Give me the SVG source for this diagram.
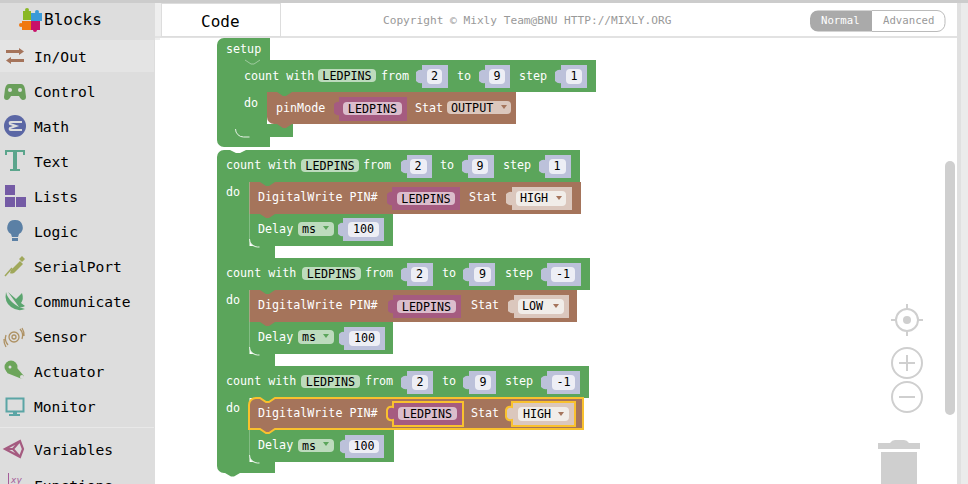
<svg xmlns="http://www.w3.org/2000/svg" xmlns:xlink="http://www.w3.org/1999/xlink" width="968" height="484" viewBox="0 0 968 484">
<style>
text{font-family:"DejaVu Sans Mono","Liberation Mono",monospace}
.m{font-size:14.6px;fill:#000}
.l{font-size:11.7px;fill:#fff}
.f{font-size:11.7px;fill:#000;text-anchor:middle}
.fs{font-size:11.7px;fill:#000}
.g{fill:#5ba55b}.b{fill:#a5745b}.p{fill:#a55b80}.v{fill:#bcc1da}.w{fill:#edeef5}
.gp{fill:#bddbbd}.bp{fill:#dbc7bd}.bw{fill:#f1ede9}.pp{fill:#dbbdcc}
.hl{fill:none;stroke:#e6f2e6;stroke-width:1}
.hs{fill:none;stroke:#9fcb9f;stroke-width:1}
.sel{stroke:#f9c12e;stroke-width:2}
.ui{fill:#cfcfcf}
.uis{fill:none;stroke:#cfcfcf;stroke-width:2}
</style>
<defs>
<path id="bg" class="g" d="M0,0l6,4h3l6,-4z"/>
<path id="bb" class="b" d="M0,0l6,4h3l6,-4z"/>
<path id="dn" d="M0,0h6l-3,4z"/>
</defs>
<rect width="968" height="484" fill="#fff"/>

<g id="workspace-blocks">
<g id="block-setup">
<path class="g" d="M217,45a7,7 0 0 1 7,-7h46v22h-35v77h35v10h-46a7,7 0 0 1 -7,-7z"/>
<text class="l" x="226" y="53">setup</text>
</g>
<g id="block-count-1">
<path class="g" d="M235,60h361v32H267v32h26v13H235z"/>
<path class="hs" d="M245,60l6,4h3l6,-4"/>
<path class="hl" d="M235.500,129a8,8 0 0 0 8,8h6"/>
<text class="l" x="244" y="80">count with</text>
<rect class="gp" x="318" y="69" width="58" height="13" rx="4"/><text class="f" x="347" y="80">LEDPINS</text>
<text class="l" x="381" y="80">from</text>
<rect class="v" x="422" y="65" width="26" height="23"/><path class="v" d="M416,72q3,-3 6,-2v13q-3,1 -6,-2z"/><rect class="w" x="427" y="69" width="15" height="15" rx="4"/><text class="f" x="434.500" y="80">2</text>
<text class="l" x="457" y="80">to</text>
<rect class="v" x="485" y="65" width="25" height="23"/><path class="v" d="M479,72q3,-3 6,-2v13q-3,1 -6,-2z"/><rect class="w" x="489" y="69" width="16" height="15" rx="4"/><text class="f" x="497" y="80">9</text>
<text class="l" x="519" y="80">step</text>
<rect class="v" x="561" y="65" width="26" height="23"/><path class="v" d="M555,72q3,-3 6,-2v13q-3,1 -6,-2z"/><rect class="w" x="566" y="69" width="16" height="15" rx="4"/><text class="f" x="574" y="80">1</text>
<text class="l" x="244" y="107">do</text>
</g>
<g id="block-pinmode">
<path class="b" d="M267,92h249v32H274a7,7 0 0 1 -7,-7z"/>
<use xlink:href="#bb" href="#bb" x="277" y="124"/>
<use xlink:href="#bg" href="#bg" x="277" y="92"/>
<text class="l" x="276" y="112">pinMode</text>
<rect class="p" x="339" y="97" width="68" height="24"/><path class="p" d="M334,104q3,-3 5,-2v13q-2,1 -5,-2z"/><rect class="pp" x="343" y="102" width="59" height="13" rx="4"/><text class="f" x="372.500" y="113">LEDPINS</text>
<text class="l" x="415" y="112">Stat</text>
<rect class="bp" x="447" y="101" width="64" height="13" rx="4"/><text class="fs" x="451" y="112">OUTPUT</text><use xlink:href="#dn" href="#dn" x="501" y="105" fill="#a5745b"/>
</g>

<g id="block-count-2">
<path class="g" d="M217,157a7,7 0 0 1 7,-7h6l6,3h4l6,-3H580v32H249.500v64H275v12H217z"/>
<text class="l" x="226" y="169">count with</text>
<rect class="gp" x="301" y="159" width="58" height="13" rx="4"/><text class="f" x="330" y="170">LEDPINS</text>
<text class="l" x="363" y="169">from</text>
<rect class="v" x="407" y="155" width="25" height="23"/><path class="v" d="M401,162q3,-3 6,-2v13q-3,1 -6,-2z"/><rect class="w" x="410" y="159" width="17" height="15" rx="4"/><text class="f" x="418" y="170">2</text>
<text class="l" x="440" y="169">to</text>
<rect class="v" x="468" y="155" width="26" height="23"/><path class="v" d="M462,162q3,-3 6,-2v13q-3,1 -6,-2z"/><rect class="w" x="472" y="159" width="16" height="15" rx="4"/><text class="f" x="480" y="170">9</text>
<text class="l" x="503" y="169">step</text>
<rect class="v" x="545" y="155" width="26" height="23"/><path class="v" d="M539,162q3,-3 6,-2v13q-3,1 -6,-2z"/><rect class="w" x="549" y="159" width="17" height="15" rx="4"/><text class="f" x="557" y="170">1</text>
<text class="l" x="226" y="196">do</text>
</g>
<g id="block-write-2">
<path class="b" d="M249.500,182H581v32H249.500z"/>
<use xlink:href="#bg" href="#bg" x="260" y="182"/>
<text class="l" x="258" y="201">DigitalWrite PIN#</text>
<rect class="p" x="392" y="187" width="68" height="23"/><path class="p" d="M387,194q3,-3 5,-2v13q-2,1 -5,-2z"/><rect class="pp" x="397" y="192" width="58" height="13" rx="4"/><text class="f" x="426" y="203">LEDPINS</text>
<text class="l" x="469" y="201">Stat</text>
<rect class="bp" x="512" y="187" width="60" height="23"/><path class="bp" d="M506,194q3,-3 6,-2v13q-3,1 -6,-2z"/><rect class="bw" x="516" y="191" width="50" height="15" rx="4"/><text class="fs" x="520" y="202">HIGH</text><use xlink:href="#dn" href="#dn" x="556" y="196" fill="#a5745b"/>
</g>
<g id="block-delay-2">
<path class="g" d="M249.500,214H393v32H256a6.500,6.500 0 0 1 -6.500,-6.500z"/>
<use xlink:href="#bb" href="#bb" x="260" y="214"/>
<path class="hl" d="M249.500,239a8,8 0 0 0 8,8h2"/>
<text class="l" x="258" y="233">Delay</text>
<rect class="gp" x="298" y="222" width="36" height="14" rx="4"/><text class="fs" x="302" y="233">ms</text><use xlink:href="#dn" href="#dn" x="323" y="226" fill="#5ba55b"/>
<rect class="v" x="343" y="218" width="41" height="23"/><path class="v" d="M338,225q3,-3 5,-2v13q-2,1 -5,-2z"/><rect class="w" x="348" y="222" width="31" height="15" rx="4"/><text class="f" x="363.500" y="233">100</text>
</g>

<g id="block-count-3">
<path class="g" d="M217,258H590v32H249.500v64H275v12H217z"/>
<text class="l" x="226" y="277">count with</text>
<rect class="gp" x="302" y="267" width="59" height="13" rx="4"/><text class="f" x="331.500" y="278">LEDPINS</text>
<text class="l" x="365" y="277">from</text>
<rect class="v" x="407" y="263" width="26" height="23"/><path class="v" d="M401,270q3,-3 6,-2v13q-3,1 -6,-2z"/><rect class="w" x="411" y="267" width="17" height="15" rx="4"/><text class="f" x="419.500" y="278">2</text>
<text class="l" x="442" y="277">to</text>
<rect class="v" x="469" y="263" width="26" height="23"/><path class="v" d="M463,270q3,-3 6,-2v13q-3,1 -6,-2z"/><rect class="w" x="474" y="267" width="17" height="15" rx="4"/><text class="f" x="482.500" y="278">9</text>
<text class="l" x="505" y="277">step</text>
<rect class="v" x="547" y="263" width="34" height="23"/><path class="v" d="M541,270q3,-3 6,-2v13q-3,1 -6,-2z"/><rect class="w" x="551" y="267" width="24" height="15" rx="4"/><text class="f" x="563" y="278">-1</text>
<text class="l" x="226" y="304">do</text>
</g>
<g id="block-write-3">
<path class="b" d="M249.500,290H577v32H249.500z"/>
<use xlink:href="#bg" href="#bg" x="260" y="290"/>
<text class="l" x="258" y="309">DigitalWrite PIN#</text>
<rect class="p" x="393" y="295" width="68" height="23"/><path class="p" d="M388,302q3,-3 5,-2v13q-2,1 -5,-2z"/><rect class="pp" x="397" y="300" width="59" height="13" rx="4"/><text class="f" x="426.500" y="311">LEDPINS</text>
<text class="l" x="471" y="309">Stat</text>
<rect class="bp" x="514" y="295" width="55" height="23"/><path class="bp" d="M508,302q3,-3 6,-2v13q-3,1 -6,-2z"/><rect class="bw" x="518" y="299" width="46" height="15" rx="4"/><text class="fs" x="522" y="310">LOW</text><use xlink:href="#dn" href="#dn" x="553" y="304" fill="#a5745b"/>
</g>
<g id="block-delay-3">
<path class="g" d="M249.500,322H393v32H256a6.500,6.500 0 0 1 -6.500,-6.500z"/>
<use xlink:href="#bb" href="#bb" x="260" y="322"/>
<path class="hl" d="M249.500,347a8,8 0 0 0 8,8h2"/>
<text class="l" x="258" y="341">Delay</text>
<rect class="gp" x="298" y="330" width="36" height="14" rx="4"/><text class="fs" x="302" y="341">ms</text><use xlink:href="#dn" href="#dn" x="323" y="334" fill="#5ba55b"/>
<rect class="v" x="344" y="327" width="41" height="23"/><path class="v" d="M339,334q3,-3 5,-2v13q-2,1 -5,-2z"/><rect class="w" x="349" y="331" width="31" height="15" rx="4"/><text class="f" x="364.500" y="342">100</text>
</g>

<g id="block-count-4">
<path class="g" d="M217,366H589v32H249.500v64H275v11H240l-6,3.500h-3l-6,-3.500h-1a7,7 0 0 1 -7,-7z"/>
<use xlink:href="#bg" href="#bg" x="260" y="398"/>
<text class="l" x="226" y="385">count with</text>
<rect class="gp" x="301" y="375" width="59" height="13" rx="4"/><text class="f" x="330.500" y="386">LEDPINS</text>
<text class="l" x="365" y="385">from</text>
<rect class="v" x="407" y="371" width="26" height="23"/><path class="v" d="M401,378q3,-3 6,-2v13q-3,1 -6,-2z"/><rect class="w" x="412" y="375" width="16" height="15" rx="4"/><text class="f" x="420" y="386">2</text>
<text class="l" x="442" y="385">to</text>
<rect class="v" x="469" y="371" width="27" height="23"/><path class="v" d="M463,378q3,-3 6,-2v13q-3,1 -6,-2z"/><rect class="w" x="475" y="375" width="16" height="15" rx="4"/><text class="f" x="483" y="386">9</text>
<text class="l" x="505" y="385">step</text>
<rect class="v" x="547" y="371" width="33" height="23"/><path class="v" d="M541,378q3,-3 6,-2v13q-3,1 -6,-2z"/><rect class="w" x="552" y="375" width="23" height="15" rx="4"/><text class="f" x="563.500" y="386">-1</text>
<text class="l" x="226" y="412">do</text>
</g>
<g id="block-delay-4">
<path class="g" d="M249.500,430H394v32H256a6.500,6.500 0 0 1 -6.500,-6.500z"/>
<path class="hl" d="M249.500,455a8,8 0 0 0 8,8h2"/>
<text class="l" x="258" y="449">Delay</text>
<rect class="gp" x="298" y="439" width="36" height="13" rx="4"/><text class="fs" x="302" y="450">ms</text><use xlink:href="#dn" href="#dn" x="323" y="442" fill="#5ba55b"/>
<rect class="v" x="345" y="435" width="39" height="23"/><path class="v" d="M340,442q3,-3 5,-2v13q-2,1 -5,-2z"/><rect class="w" x="349" y="440" width="30" height="13" rx="4"/><text class="f" x="364" y="450">100</text>
</g>
<g id="block-write-4">
<path class="b sel" d="M249,405a7,7 0 0 1 7,-7h4l6,4h3l6,-4H583v31H275l-6,4h-3l-6,-4H249z"/>
<text class="l" x="258" y="417">DigitalWrite PIN#</text>
<path class="p sel" d="M393,402h70v24h-70v-6q-5,1 -6,-3v-7q1,-4 6,-3z"/><rect class="pp" x="398" y="407" width="59" height="13" rx="4"/><text class="f" x="427.500" y="418">LEDPINS</text>
<text class="l" x="471" y="417">Stat</text>
<path class="bp sel" d="M512,402h63v24h-63v-6q-5,1 -6,-3v-7q1,-4 6,-3z"/><rect class="bw" x="518" y="407" width="51" height="14" rx="4"/><text class="fs" x="523" y="418">HIGH</text><use xlink:href="#dn" href="#dn" x="558" y="412" fill="#a5745b"/>
</g>
</g>

<g id="toolbox">
<rect x="0" y="0" width="155" height="484" fill="#ddd"/>
<rect x="0" y="40" width="154" height="32" fill="#e4e4e4"/>
<rect x="0" y="427" width="154" height="1" fill="#e8e8e8"/>
<g id="logo">
<rect x="23" y="11" width="8" height="9" fill="#8ab825"/><circle cx="27" cy="10" r="2" fill="#8ab825"/>
<rect x="31" y="13" width="11" height="8" fill="#3a9ad9"/><circle cx="37" cy="12" r="2" fill="#3a9ad9"/>
<rect x="22" y="21" width="9" height="9" fill="#f07810"/><circle cx="21" cy="25" r="2" fill="#f07810"/>
<rect x="31" y="21" width="9" height="9" fill="#c8106a"/><circle cx="35" cy="30" r="2" fill="#c8106a"/>
<text x="44" y="25" font-size="16" fill="#000">Blocks</text>
</g>
<g id="cat-inout">
<path d="M6,50h13v-2l5,3.500 -5,3.500v-2h-13zM24,59h-13v-2l-5,3.500 5,3.500v-2h13z" fill="#a5745b"/>
<text class="m" x="34" y="62">In/Out</text>
</g>
<g id="cat-control">
<path d="M9,84h12q3,0 4,5l1,8q0,3 -3,3 -2,0 -4,-4h-8q-2,4 -4,4 -3,0 -3,-3l1,-8q1,-5 4,-5z" fill="#6a9f5b"/>
<circle cx="10" cy="90" r="2" fill="#ddd"/><circle cx="20" cy="90" r="2" fill="#ddd"/>
<text class="m" x="34" y="97">Control</text>
</g>
<g id="cat-math">
<circle cx="15" cy="126" r="11" fill="#5b67a5"/>
<path d="M22,122H11q-2,0 -1,2l6,2 -6,2q-1,2 1,2h11" fill="none" stroke="#ddd" stroke-width="2"/>
<text class="m" x="34" y="132">Math</text>
</g>
<g id="cat-text">
<rect x="5" y="150" width="20" height="2" fill="#5ba58c"/><rect x="5" y="150" width="2" height="5" fill="#5ba58c"/><rect x="23" y="150" width="2" height="5" fill="#5ba58c"/>
<rect x="13" y="151" width="4" height="19" fill="#5ba58c"/><rect x="10" y="169" width="10" height="2" fill="#5ba58c"/>
<text class="m" x="34" y="167">Text</text>
</g>
<g id="cat-lists" fill="#745ba5">
<rect x="5" y="185" width="10" height="10"/><rect x="5" y="197" width="10" height="10"/><rect x="16" y="197" width="10" height="10"/>
<text class="m" x="34" y="202" style="fill:#000">Lists</text>
</g>
<g id="cat-logic">
<path d="M15,220a7.500,7.500 0 0 1 4,14l-1,3h-6l-1,-3a7.500,7.500 0 0 1 4,-14z" fill="#5b80a5"/>
<rect x="12" y="238" width="6" height="3" fill="#5b80a5"/>
<text class="m" x="34" y="237">Logic</text>
</g>
<g id="cat-serial">
<path d="M5,276l7,-8" stroke="#a0a85b" stroke-width="1.500"/><path d="M11,270l9,-9 3,3 -9,9q-3,1 -4,0z M19,259l3,-3 3,3 -3,3z" fill="#a0a85b"/>
<text class="m" x="34" y="272">SerialPort</text>
</g>
<g id="cat-comm">
<path d="M6,292q-2,10 5,15t14,2q-8,-2 -13,-7t-6,-10z" fill="#5ba56f"/><path d="M8,292l8,7 6,-6q2,6 -1,10l4,3q-3,2 -6,1z" fill="#5ba56f"/>
<text class="m" x="34" y="307">Communicate</text>
</g>
<g id="cat-sensor">
<g fill="none" stroke="#ae9163" stroke-width="1.300"><circle cx="14" cy="337" r="2"/><circle cx="14" cy="337" r="5"/><path d="M20,329a10,10 0 0 1 2,10M8,345a10,10 0 0 1 -2,-10M22,328a13,13 0 0 1 2,8M6,347a13,13 0 0 1 -2,-8"/></g>
<text class="m" x="34" y="342">Sensor</text>
</g>
<g id="cat-actuator">
<path d="M11,361l13,15 -2,3 -15,-6z" fill="#6da55b"/><circle cx="11" cy="367" r="6.500" fill="#6da55b"/><circle cx="10" cy="367" r="1.500" fill="#ddd"/><circle cx="22" cy="377" r="2" fill="#ddd"/>
<text class="m" x="34" y="377">Actuator</text>
</g>
<g id="cat-monitor">
<rect x="6.500" y="398.500" width="17" height="13" fill="#ddd" stroke="#5ba5a5" stroke-width="2"/><rect x="13" y="412" width="4" height="3" fill="#5ba5a5"/><rect x="9" y="414" width="11" height="2" fill="#5ba5a5"/>
<text class="m" x="34" y="412">Monitor</text>
</g>
<g id="cat-variables">
<path d="M5,449l15,-8 3,8 -3,8zM20,441l-7,8 7,8M13,449H5" fill="none" stroke="#a55b80" stroke-width="2.200"/>
<text class="m" x="34" y="455">Variables</text>
</g>
<g id="cat-functions">
<rect x="8" y="473" width="1" height="11" fill="#a55b99"/>
<text x="11" y="483" font-size="9" font-style="italic" fill="#a55b99">xy</text>
<text class="m" x="34" y="491">Functions</text>
</g>
</g>

<g id="header">
<rect x="155" y="3" width="813" height="33" fill="#fff"/>
<rect x="0" y="0" width="968" height="3" fill="#ccc"/>
<rect x="155" y="3" width="6" height="33" fill="#eee"/>
<rect x="155" y="36" width="813" height="2" fill="#e2e2e2"/>
<rect x="155" y="38" width="5" height="2" fill="#eee"/>
<rect x="161.500" y="3.500" width="119" height="33" fill="#fff" stroke="#ddd"/>
<text x="201" y="27" font-size="16" fill="#000">Code</text>
<text x="383" y="24" font-size="11.150" fill="#999">Copyright © Mixly Team@BNU HTTP://MIXLY.ORG</text>
<g id="mode-switch">
<path d="M872,10.500h-54a8,8 0 0 0 -8,8v5a8,8 0 0 0 8,8h54z" fill="#aaa"/>
<path d="M872,10.500h65a8,8 0 0 1 8,8v5a8,8 0 0 1 -8,8h-65" fill="#fff" stroke="#bbb"/>
<text x="821" y="24" font-size="10.700" fill="#fff">Normal</text>
<text x="883" y="24" font-size="10.700" fill="#999">Advanced</text>
</g>
</g>

<g id="controls">
<rect x="945" y="161" width="10" height="254" rx="5" class="ui"/>
<rect x="957" y="3" width="11" height="481" fill="#ebebeb"/>
<rect x="957" y="3" width="4" height="481" fill="#e0e0e0"/>
<g id="ctrl-center">
<circle cx="907" cy="320" r="11" class="uis"/><circle cx="907" cy="320" r="4" class="ui"/>
<path d="M907,304v5M907,331v5M891,320h5M918,320h5" class="uis"/>
</g>
<g id="ctrl-zoomin"><circle cx="907" cy="363" r="15" class="uis"/><path d="M907,355v16M899,363h16" class="uis"/></g>
<g id="ctrl-zoomout"><circle cx="907" cy="397" r="15" class="uis"/><path d="M899,397h16" class="uis"/></g>
<g id="trash">
<path d="M878,443h12q2,-3 5,-3h9q3,0 5,3h11v6h-42z" class="ui"/>
<rect x="881" y="452" width="36" height="32" class="ui"/>
</g>
</g>
</svg>
